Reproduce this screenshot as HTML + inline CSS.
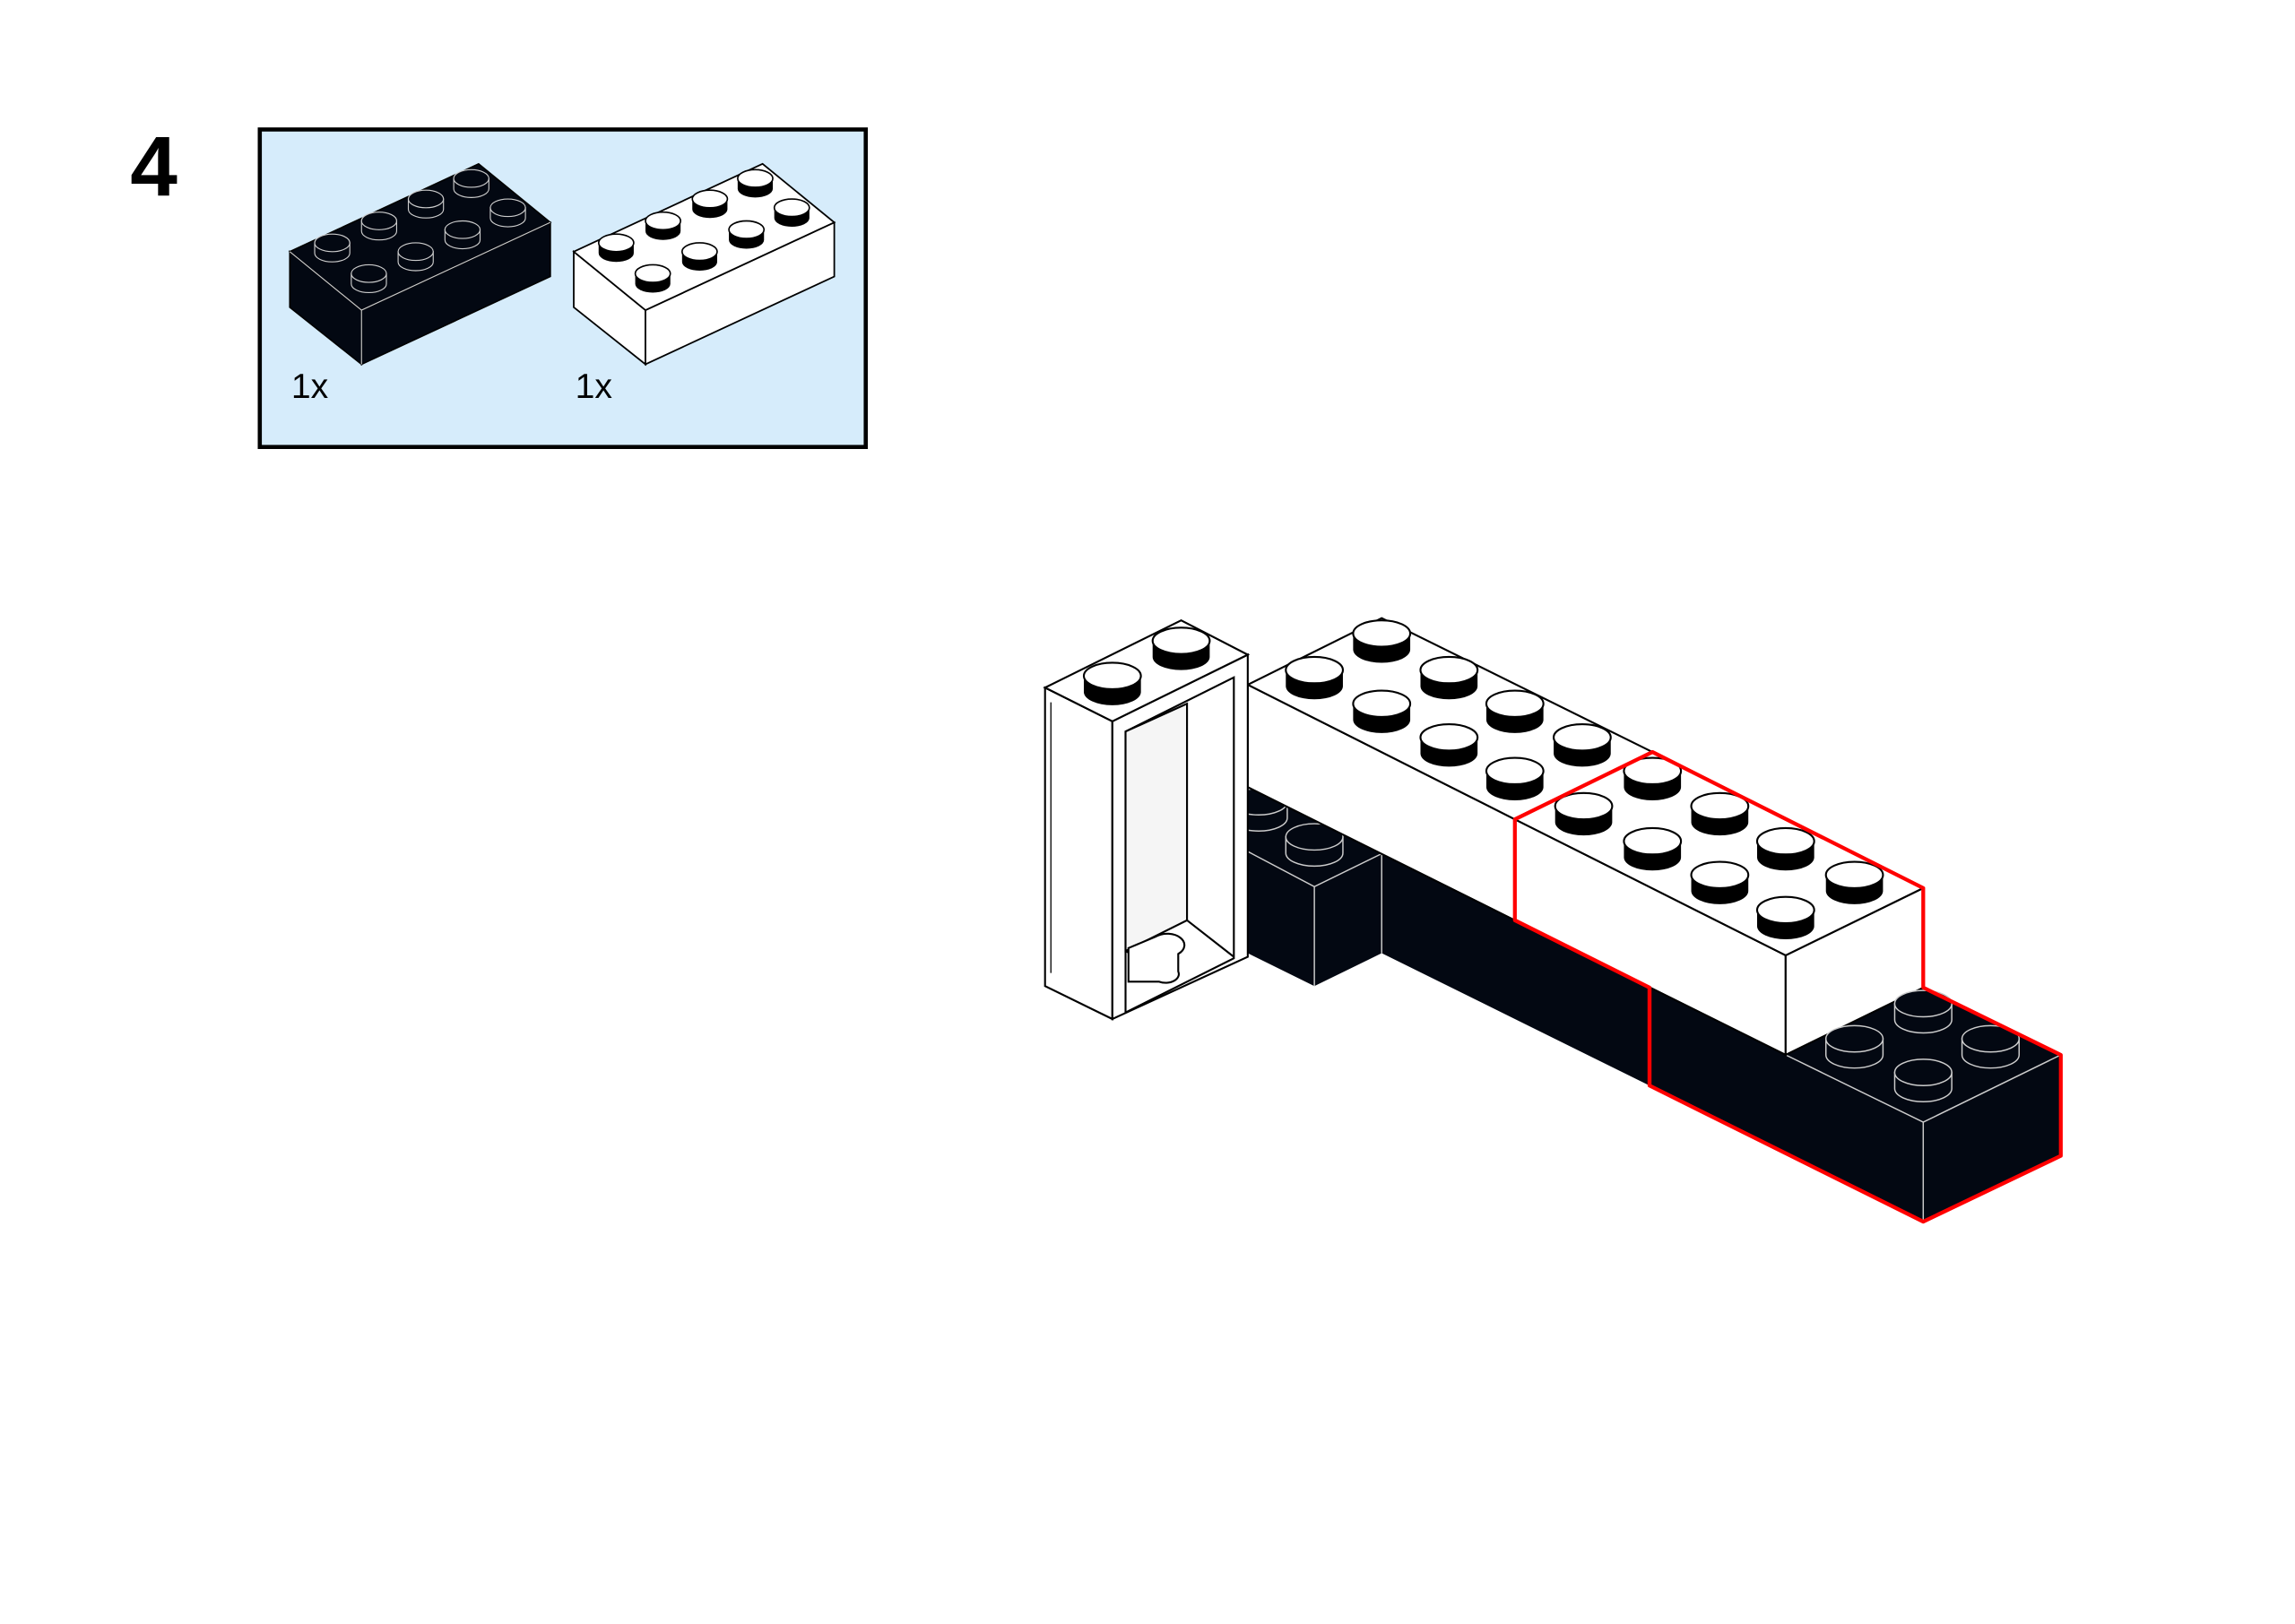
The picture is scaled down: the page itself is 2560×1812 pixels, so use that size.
<!DOCTYPE html>
<html><head><meta charset="utf-8"><style>
html,body{margin:0;padding:0;background:#fff;width:2560px;height:1812px;overflow:hidden}
svg{display:block}
</style></head><body>
<svg width="2560" height="1812" viewBox="0 0 1568 1110" preserveAspectRatio="none" xmlns="http://www.w3.org/2000/svg">
<defs>
<g id="sw"><path d="M-19.5,0 V11 A19.5,9 0 0 0 19.5,11 V0 Z" fill="#000"/><ellipse rx="19.5" ry="9" fill="#fff" stroke="#000" stroke-width="1.3"/></g>
<g id="sb"><path d="M-19.5,0 V11 A19.5,9 0 0 0 19.5,11 V0 Z" fill="#030812" stroke="#ccc" stroke-width="0.9"/><ellipse rx="19.5" ry="9" fill="#030812" stroke="#ccc" stroke-width="0.9"/></g>
<g id="ssw"><path d="M-12,0 V7 A12,6 0 0 0 12,7 V0 Z" fill="#000"/><ellipse rx="12" ry="6" fill="#fff" stroke="#000" stroke-width="1"/></g>
<g id="ssb"><path d="M-12,0 V7 A12,6 0 0 0 12,7 V0 Z" fill="#030812" stroke="#ccc" stroke-width="0.7"/><ellipse rx="12" ry="6" fill="#030812" stroke="#ccc" stroke-width="0.7"/></g>
</defs>

<text x="89" y="134" font-family="Liberation Sans, sans-serif" font-weight="bold" font-size="58" fill="#000">4</text>

<rect x="177.5" y="88.5" width="414" height="217" fill="#d6ecfb" stroke="#000" stroke-width="2.8"/>

<g stroke-width="1">
<polygon points="198,172 247,212 247,249 198,210" fill="#030812" stroke="#000"/>
<polygon points="247,212 376,152 376,189 247,249" fill="#030812" stroke="#000"/>
<polygon points="198,172 327,112 376,152 247,212" fill="#030812" stroke="#000"/>
<polyline points="198,172 247,212 376,152" fill="none" stroke="#ccc" stroke-width="0.7"/>
<line x1="247" y1="212" x2="247" y2="249" stroke="#ccc" stroke-width="0.7"/>
</g>
<use href="#ssb" x="322" y="122"/><use href="#ssb" x="347" y="142"/>
<use href="#ssb" x="291" y="136"/><use href="#ssb" x="316" y="157"/>
<use href="#ssb" x="259" y="151"/><use href="#ssb" x="284" y="172"/>
<use href="#ssb" x="227" y="166"/><use href="#ssb" x="252" y="187"/>

<g stroke="#000" stroke-width="1.1" fill="#fff">
<polygon points="392,172 441,212 441,249 392,210"/>
<polygon points="441,212 570,152 570,189 441,249"/>
<polygon points="392,172 521,112 570,152 441,212"/>
</g>
<use href="#ssw" x="516" y="122"/><use href="#ssw" x="541" y="142"/>
<use href="#ssw" x="485" y="136"/><use href="#ssw" x="510" y="157"/>
<use href="#ssw" x="453" y="151"/><use href="#ssw" x="478" y="172"/>
<use href="#ssw" x="421" y="166"/><use href="#ssw" x="446" y="187"/>

<text x="199" y="272" font-family="Liberation Sans, sans-serif" font-size="24" fill="#000">1x</text>
<text x="393" y="272" font-family="Liberation Sans, sans-serif" font-size="24" fill="#000">1x</text>

<polygon points="852.5,538 1035,629 1220,721 1314,675 1408,721 1408,790 1314,835 1127,742 944,651.5 898,674 852.5,651.5" fill="#030812"/>
<g stroke="#ccc" stroke-width="0.9" fill="none">
<polyline points="852.5,582 898,606 944,583.5"/>
<line x1="898" y1="606" x2="898" y2="674"/>
<line x1="944" y1="583.5" x2="944" y2="651.5"/>
<polyline points="1220,721 1314,767 1408,721"/>
<line x1="1314" y1="767" x2="1314" y2="835"/>
</g>
<use href="#sb" x="860" y="548"/>
<use href="#sb" x="898" y="572"/>

<g stroke="#000" stroke-width="1.3" fill="#fff">
<polygon points="852.5,468 1035,560 1035,629 852.5,538"/>
<polygon points="852.5,468 944,422.5 1129,514 1035,560"/>
</g>
<use href="#sw" x="944" y="433"/>
<use href="#sw" x="898" y="458"/><use href="#sw" x="990" y="458"/>
<use href="#sw" x="944" y="481"/><use href="#sw" x="1035" y="481"/>
<use href="#sw" x="990" y="504"/><use href="#sw" x="1081" y="504"/>
<use href="#sw" x="1035" y="527"/>

<g stroke="#000" stroke-width="1.3" fill="#fff">
<polygon points="714,470 760,493 760,696.5 714,674"/>
<polygon points="760,493 852.5,447.5 852.5,654 760,696.5"/>
<polygon points="714,470 807,424 852.5,447.5 760,493"/>
<polygon points="769,500 843,463 843,655 769,692"/>
<polygon points="769,500 811,481 811,629 769,650" fill="#f5f5f5"/>
<line x1="811" y1="629" x2="843" y2="654"/>
<line x1="769" y1="650" x2="800" y2="667"/>
<line x1="718" y1="480" x2="718" y2="665" stroke-width="0.8"/>
<path d="M771,648 L790,640 A9,6 0 0 1 805,652 L805,664 A9,6 0 0 1 792,671 L771,671 Z"/>
</g>
<use href="#sw" x="807" y="438"/>
<use href="#sw" x="760" y="462"/>

<g stroke="#000" stroke-width="1.3" fill="#fff">
<polygon points="1035,560 1220,653 1220,721 1035,629"/>
<polygon points="1220,653 1314,607 1314,675 1220,721"/>
<polygon points="1035,560 1129,514 1314,607 1220,653"/>
</g>
<use href="#sw" x="1129" y="527"/>
<use href="#sw" x="1082" y="551"/><use href="#sw" x="1175" y="551"/>
<use href="#sw" x="1129" y="575"/><use href="#sw" x="1220" y="575"/>
<use href="#sw" x="1175" y="598"/><use href="#sw" x="1267" y="598"/>
<use href="#sw" x="1220" y="622"/>

<use href="#sb" x="1314" y="686"/>
<use href="#sb" x="1267" y="710"/><use href="#sb" x="1360" y="710"/>
<use href="#sb" x="1314" y="733"/>

<path d="M1127,675 L1035,629 L1035,560 L1129,514 L1314,607 L1314,675 L1408,721 L1408,790 L1314,835 L1127,742 Z" fill="none" stroke="#f00" stroke-width="2.6" stroke-linejoin="round"/>
<line x1="1127" y1="675" x2="1127" y2="742" stroke="#f00" stroke-width="2.6"/>
</svg>
</body></html>
